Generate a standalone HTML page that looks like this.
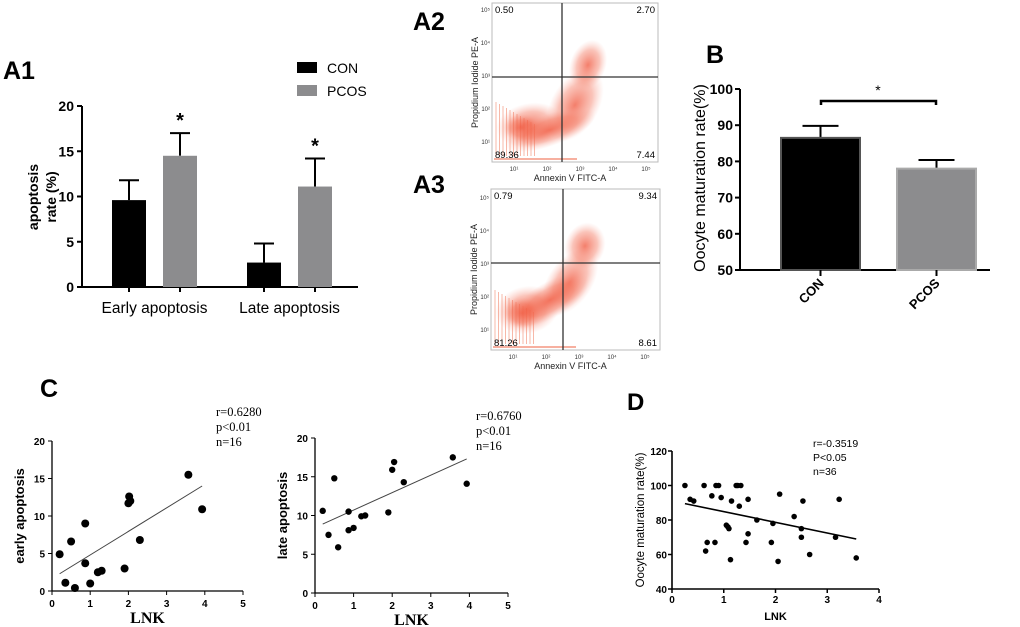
<!DOCTYPE html>
<html><head><meta charset="utf-8"><style>
html,body{margin:0;padding:0;background:#fff;}
svg{display:block;font-family:"Liberation Sans",Arial,sans-serif;}
.ser{font-family:"Liberation Serif",serif;}
</style></head><body>
<svg id="fig" width="1020" height="627" viewBox="0 0 1020 627">
<defs>
<radialGradient id="cloud" cx="50%" cy="50%" r="50%">
<stop offset="0" stop-color="#f0543a" stop-opacity="0.75"/>
<stop offset="0.6" stop-color="#f36a50" stop-opacity="0.4"/>
<stop offset="1" stop-color="#f7a090" stop-opacity="0"/>
</radialGradient>
</defs>
<g id="g"></g>
</svg>
<script>
// ---------- data ----------
const a1Categories = ["Early apoptosis", "Late apoptosis"];
const a1Con = [9.6, 2.7];
const a1ConErr = [11.8, 4.8];
const a1Pcos = [14.5, 11.1];
const a1PcosErr = [17.0, 14.2];
const a1Ticks = [0, 5, 10, 15, 20];

const bCategories = ["CON", "PCOS"];
const bValues = [86.5, 78.0];
const bErr = [89.8, 80.4];
const bTicks = [50, 60, 70, 80, 90, 100];

const cLnk = [0.2, 0.35, 0.5, 0.6, 0.87, 0.87, 1.0, 1.2, 1.3, 1.9, 2.0, 2.02, 2.05, 2.3, 3.57, 3.93];
const cEarly = [4.9, 1.1, 6.6, 0.4, 9.0, 3.7, 1.0, 2.5, 2.7, 3.0, 11.7, 12.6, 12.0, 6.8, 15.5, 10.9];
const cEarlyFit = [2.3, 14.0];
const cLateLnk = [0.2, 0.35, 0.5, 0.6, 0.87, 0.87, 1.0, 1.2, 1.3, 1.9, 2.0, 2.05, 2.3, 3.57, 3.93];
const cLate = [10.6, 7.5, 14.8, 5.9, 10.5, 8.1, 8.4, 9.9, 10.0, 10.4, 15.9, 16.9, 14.3, 17.5, 14.1];
const cLateFit = [8.9, 17.3];
const cFitX = [0.2, 3.93];
const cXTicks = [0, 1, 2, 3, 4, 5];
const cYTicks = [0, 5, 10, 15, 20];

const dLnk = [0.25,0.35,0.42,0.62,0.65,0.68,0.77,0.83,0.85,0.9,0.95,1.05,1.08,1.1,1.13,1.15,1.24,1.3,1.33,1.43,1.47,1.47,1.64,1.92,1.95,2.05,2.08,2.36,2.5,2.5,2.53,2.66,3.16,3.23,3.56,1.27];
const dRate = [100,92,91,100,62,67,94,67,100,100,93,77,76,75,57,91,100,88,100,67,92,72,80,67,78,56,95,82,75,70,91,60,70,92,58,100];
const dFitX = [0.25, 3.56];
const dFit = [89.5, 69.0];
const dXTicks = [0, 1, 2, 3, 4];
const dYTicks = [40, 60, 80, 100, 120];

// ---------- helpers ----------
const NS = "http://www.w3.org/2000/svg";
const root = document.getElementById("g");
function mk(tag, attrs, parent, txt) {
  const e = document.createElementNS(NS, tag);
  for (const k in attrs) e.setAttribute(k, attrs[k]);
  if (txt !== undefined) e.textContent = txt;
  (parent || root).appendChild(e);
  return e;
}
function lin(d0, d1, r0, r1) { return v => r0 + (v - d0) * (r1 - r0) / (d1 - d0); }
function grp(name) {
  const e = mk("g", {});
  
  
  return e;
}

// ---------- A1 ----------
(function () {
  const G = grp("panel-a1");
  const t = mk("text", {x: 3, y: 79, "font-size": 25, "font-weight": "bold"}, G, "A1");
  
  
  const y = lin(0, 20, 287, 106);
  const axX = 82, axEnd = 358;
  const ax = mk("path", {d: `M${axX},${y(20)}V${y(0)}H${axEnd}`, stroke: "#000", "stroke-width": 2, fill: "none"}, G);
  
  
  a1Ticks.forEach(v => {
    mk("line", {x1: axX - 5, x2: axX, y1: y(v), y2: y(v), stroke: "#000", "stroke-width": 2}, G);
    const tl = mk("text", {x: axX - 8, y: y(v) + 5, "font-size": 14, "font-weight": "bold", "text-anchor": "end"}, G, v);
    
    
  });
  const yt = mk("text", {transform: "translate(38,197) rotate(-90)", "font-size": 14, "font-weight": "bold", "text-anchor": "middle"}, G);
  
  
  mk("tspan", {x: 0, dy: 0}, yt, "apoptosis");
  mk("tspan", {x: 0, dy: 18}, yt, "rate (%)");
  const groupX = [112, 247], bw = 34, gap = 51;
  a1Categories.forEach((c, i) => {
    const bx = [groupX[i], groupX[i] + gap];
    [[a1Con, a1ConErr, "#000"], [a1Pcos, a1PcosErr, "#8c8c8e"]].forEach((s, j) => {
      const cx = bx[j] + bw / 2;
      const eb = mk("path", {d: `M${cx},${y(s[0][i])}V${y(s[1][i])}M${cx - 10},${y(s[1][i])}H${cx + 10}`, stroke: "#000", "stroke-width": 2}, G);
      
      
      const r = mk("rect", {x: bx[j], y: y(s[0][i]), width: bw, height: y(0) - y(s[0][i]), fill: s[2]}, G);
      
      
      mk("line", {x1: cx, x2: cx, y1: y(0), y2: y(0) + 5, stroke: "#000", "stroke-width": 2}, G);
      if (j === 1) {
        const st = mk("text", {x: cx, y: y(s[1][i]) - 6, "font-size": 20, "font-weight": "bold", "text-anchor": "middle"}, G, "*");
        
        
      }
    });
    const cl = mk("text", {x: (bx[0] + bx[1] + bw) / 2, y: 313, "font-size": 15.5, "text-anchor": "middle"}, G, c);
    
    
  });
  [["CON", "#000", 62], ["PCOS", "#8c8c8e", 85]].forEach(l => {
    const r = mk("rect", {x: 297, y: l[2], width: 20, height: 11, fill: l[1]}, G);
    
    
    const lt = mk("text", {x: 327, y: l[2] + 11, "font-size": 14}, G, l[0]);
    
    
  });
})();

// ---------- Flow plots ----------
function flow(name, label, ly, box, cross, q, blobs) {
  const G = grp(name);
  const t = mk("text", {x: 413, y: ly, "font-size": 25, "font-weight": "bold"}, G, label);
  
  
  const [x0, y0, x1, y1] = box;
  mk("rect", {x: x0, y: y0, width: x1 - x0, height: y1 - y0, fill: "#fff", stroke: "#bbb", "stroke-width": 1}, G);
  for (let k = 0; k < 12; k++) {
    mk("line", {x1: x0 + 4 + k * 3.5, x2: x0 + 4 + k * 3.5, y1: y1 - 60 + k * 2, y2: y1 - 6, stroke: "#f7b8a8", "stroke-width": 1}, G);
  }
  mk("line", {x1: x0 + 2, x2: x0 + 85, y1: y1 - 3, y2: y1 - 3, stroke: "#f7b0a0", "stroke-width": 2}, G);
  blobs.forEach(b => {
    const e = mk("ellipse", {cx: b[0], cy: b[1], rx: b[2], ry: b[3], fill: "url(#cloud)", transform: `rotate(${b[4]} ${b[0]} ${b[1]})`}, G);
    
    
  });
  mk("line", {x1: cross[0], x2: cross[0], y1: y0, y2: y1, stroke: "#333", "stroke-width": 1.3}, G);
  mk("line", {x1: x0, x2: x1, y1: cross[1], y2: cross[1], stroke: "#333", "stroke-width": 1.3}, G);
  const fs = 9.5;
  [[x0 + 3, y0 + 10, "start", q[0]], [x1 - 3, y0 + 10, "end", q[1]], [x0 + 3, y1 - 4, "start", q[2]], [x1 - 3, y1 - 4, "end", q[3]]].forEach(a => {
    const e = mk("text", {x: a[0], y: a[1], "font-size": fs, "text-anchor": a[2]}, G, a[3]);
    
    
  });
  ["10¹", "10²", "10³", "10⁴", "10⁵"].forEach((s, k) => {
    mk("text", {x: x0 + 22 + k * 33, y: y1 + 9, "font-size": 6, "text-anchor": "middle", fill: "#333"}, G, s);
    mk("text", {x: x0 - 2, y: y1 - 18 - k * 33, "font-size": 6, "text-anchor": "end", fill: "#333"}, G, s);
  });
  const xl = mk("text", {x: (x0 + x1) / 2 - 5, y: y1 + 19, "font-size": 9, "text-anchor": "middle", fill: "#222"}, G, "Annexin V FITC-A");
  
  
  const yl = mk("text", {transform: `translate(${x0 - 14},${(y0 + y1) / 2}) rotate(-90)`, "font-size": 9, "text-anchor": "middle", fill: "#222"}, G, "Propidium Iodide PE-A");
  
  
}
flow("panel-a2", "A2", 30, [492, 3, 658, 162], [562, 77], ["0.50", "2.70", "89.36", "7.44"],
  [[530, 125, 34, 22, -10], [522, 128, 18, 14, 0], [575, 105, 24, 40, 30], [588, 65, 18, 26, 20], [550, 130, 48, 16, -20]]);
flow("panel-a3", "A3", 193, [491, 189, 660, 350], [563, 263], ["0.79", "9.34", "81.26", "8.61"],
  [[527, 310, 32, 24, -10], [522, 313, 18, 16, 0], [570, 282, 22, 38, 35], [585, 246, 20, 24, 20], [550, 300, 44, 18, -30]]);

// ---------- B ----------
(function () {
  const G = grp("panel-b");
  const t = mk("text", {x: 706, y: 63, "font-size": 25, "font-weight": "bold"}, G, "B");
  
  
  const y = lin(50, 100, 270, 89);
  const axX = 740;
  mk("path", {d: `M${axX},${y(100)}V${y(50)}H990`, stroke: "#000", "stroke-width": 2, fill: "none"}, G);
  bTicks.forEach(v => {
    mk("line", {x1: axX - 5, x2: axX, y1: y(v), y2: y(v), stroke: "#000", "stroke-width": 2}, G);
    const tl = mk("text", {x: axX - 7, y: y(v) + 5, "font-size": 14, "font-weight": "bold", "text-anchor": "end"}, G, v);
    
    
  });
  const yt = mk("text", {transform: "translate(705,178) rotate(-90)", "font-size": 16, "text-anchor": "middle"}, G, "Oocyte maturation rate(%)");
  
  
  const bx = [781, 897], bw = 79, fills = ["#000", "#8c8c8e"], strokes = ["#555", "#aaa"];
  bCategories.forEach((c, i) => {
    const cx = bx[i] + bw / 2;
    mk("path", {d: `M${cx},${y(bValues[i])}V${y(bErr[i])}M${cx - 18},${y(bErr[i])}H${cx + 18}`, stroke: "#000", "stroke-width": 2}, G);
    const r = mk("rect", {x: bx[i], y: y(bValues[i]), width: bw, height: y(50) - y(bValues[i]), fill: fills[i], stroke: strokes[i], "stroke-width": 2}, G);
    
    
    mk("line", {x1: cx, x2: cx, y1: y(50), y2: y(50) + 6, stroke: "#000", "stroke-width": 2}, G);
    const tl = mk("text", {transform: `translate(${cx + 4},${y(50) + 14}) rotate(-45)`, "font-size": 13, "font-weight": "bold", "text-anchor": "end"}, G, c);
    
    
  });
  const br = mk("path", {d: "M821,105V101H936V105", stroke: "#000", "stroke-width": 2.5, fill: "none"}, G);
  
  
  mk("text", {x: 878, y: 95, "font-size": 14, "text-anchor": "middle"}, G, "*");
})();

// ---------- C ----------
function scatterC(name, ax, xs, ys, fitY, ylabel, stats) {
  const G = grp(name);
  const x = lin(0, 5, ax.x0, ax.x5), y = lin(0, 20, ax.y0, ax.y20);
  mk("path", {d: `M${x(0)},${y(20)}V${y(0)}H${x(5)}`, stroke: "#000", "stroke-width": 1.3, fill: "none"}, G);
  cYTicks.forEach(v => {
    mk("line", {x1: x(0) - 4, x2: x(0), y1: y(v), y2: y(v), stroke: "#000"}, G);
    const tl = mk("text", {x: x(0) - 7, y: y(v) + 4, "font-size": 10, "font-weight": "bold", "text-anchor": "end"}, G, v);
    
    
  });
  cXTicks.forEach(v => {
    mk("line", {x1: x(v), x2: x(v), y1: y(0), y2: y(0) + 4, stroke: "#000"}, G);
    const tl = mk("text", {x: x(v), y: y(0) + 16, "font-size": 10, "font-weight": "bold", "text-anchor": "middle"}, G, v);
    
    
  });
  const xt = mk("text", {x: x(2.5), y: ax.y0 + 32, "font-size": 16, "font-weight": "bold", "text-anchor": "middle", "class": "ser"}, G, "LNK");
  
  
  const yt = mk("text", {transform: `translate(${x(0) - 28},${y(10)}) rotate(-90)`, "font-size": 13, "font-weight": "bold", "text-anchor": "middle"}, G, ylabel);
  
  
  const fl = mk("line", {x1: x(cFitX[0]), y1: y(fitY[0]), x2: x(cFitX[1]), y2: y(fitY[1]), stroke: "#444", "stroke-width": 1}, G);
  
  
  xs.forEach((v, i) => {
    const p = mk("circle", {cx: x(v), cy: y(ys[i]), r: ax.r, fill: "#000"}, G);
    
    
  });
  stats.forEach((s, i) => {
    const e = mk("text", {x: ax.sx, y: ax.sy + i * 15, "font-size": 12.5, "class": "ser"}, G, s);
    
    
  });
}
const cl = mk("text", {x: 40, y: 397, "font-size": 25, "font-weight": "bold"}, root, "C");


scatterC("panel-c-early", {x0: 52, x5: 243, y0: 591, y20: 441, r: 4, sx: 216, sy: 416}, cLnk, cEarly, cEarlyFit, "early apoptosis", ["r=0.6280", "p\u003c0.01", "n=16"]);
scatterC("panel-c-late", {x0: 315, x5: 508, y0: 593, y20: 438, r: 3.2, sx: 476, sy: 420}, cLateLnk, cLate, cLateFit, "late apoptosis", ["r=0.6760", "p\u003c0.01", "n=16"]);

// ---------- D ----------
(function () {
  const G = grp("panel-d");
  const t = mk("text", {x: 627, y: 410, "font-size": 24, "font-weight": "bold"}, G, "D");
  
  
  const x = lin(0, 4, 672, 879), y = lin(40, 120, 589, 451);
  mk("path", {d: `M${x(0)},${y(120)}V${y(40)}H${x(4)}`, stroke: "#000", "stroke-width": 1.6, fill: "none"}, G);
  dYTicks.forEach(v => {
    mk("line", {x1: x(0) - 4, x2: x(0), y1: y(v), y2: y(v), stroke: "#000", "stroke-width": 1.5}, G);
    const tl = mk("text", {x: x(0) - 5, y: y(v) + 4, "font-size": 10, "font-weight": "bold", "text-anchor": "end"}, G, v);
    
    
  });
  dXTicks.forEach(v => {
    mk("line", {x1: x(v), x2: x(v), y1: y(40), y2: y(40) + 4, stroke: "#000", "stroke-width": 1.5}, G);
    const tl = mk("text", {x: x(v), y: y(40) + 14, "font-size": 10, "font-weight": "bold", "text-anchor": "middle"}, G, v);
    
    
  });
  const xt = mk("text", {x: x(2), y: 620, "font-size": 11, "font-weight": "bold", "text-anchor": "middle"}, G, "LNK");
  
  
  const yt = mk("text", {transform: `translate(644,${y(80)}) rotate(-90)`, "font-size": 11.5, "text-anchor": "middle"}, G, "Oocyte maturation rate(%)");
  
  
  const fl = mk("line", {x1: x(dFitX[0]), y1: y(dFit[0]), x2: x(dFitX[1]), y2: y(dFit[1]), stroke: "#000", "stroke-width": 1.6}, G);
  
  
  dLnk.forEach((v, i) => {
    const p = mk("circle", {cx: x(v), cy: y(dRate[i]), r: 2.8, fill: "#000"}, G);
    
    
  });
  ["r=-0.3519", "P<0.05", "n=36"].forEach((s, i) => {
    const e = mk("text", {x: 813, y: 447 + i * 14, "font-size": 10.5}, G, s);
    
    
  });
})();
</script>
</body></html>
